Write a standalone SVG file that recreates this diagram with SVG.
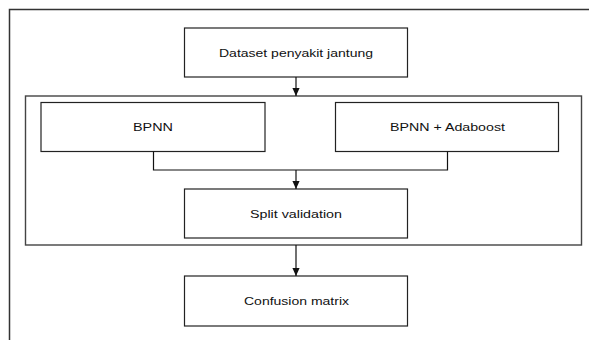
<svg xmlns="http://www.w3.org/2000/svg" width="589" height="340" viewBox="0 0 589 340">
<defs>
<style>
.box{fill:#fff;stroke:#222;stroke-width:1.2}
.frame{fill:none;stroke:#333;stroke-width:1.5}
.lbl{font-family:"Liberation Sans",Arial,sans-serif;font-size:11px;fill:#111;text-anchor:middle;dominant-baseline:central}
.con{fill:none;stroke:#111;stroke-width:1.2}
</style>
<marker id="ah" viewBox="0 0 10 10" refX="10" refY="5" markerWidth="8" markerHeight="8" markerUnits="userSpaceOnUse" orient="auto">
<path d="M0,0.5 L10,5 L0,9.5 Z" fill="#111"/>
</marker>
</defs>
<rect width="589" height="340" fill="#fff"/>
<path class="frame" d="M9.5,340 V9.5 H589"/>
<g id="container"><rect class="box" x="25.5" y="96" width="556" height="149" style="stroke:#444;stroke-width:1.4"/></g>
<g id="dataset"><rect class="box" x="184.5" y="28" width="223" height="49"/><text class="lbl" x="296" y="52.5" textLength="154" lengthAdjust="spacingAndGlyphs">Dataset penyakit jantung</text></g>
<g id="bpnn"><rect class="box" x="41" y="102.5" width="224" height="49"/><text class="lbl" x="153" y="127" textLength="40" lengthAdjust="spacingAndGlyphs">BPNN</text></g>
<g id="bpnn-adaboost"><rect class="box" x="335.5" y="102.5" width="223" height="49"/><text class="lbl" x="447.5" y="127" textLength="115" lengthAdjust="spacingAndGlyphs">BPNN + Adaboost</text></g>
<g id="split"><rect class="box" x="184.5" y="189" width="223" height="49"/><text class="lbl" x="296" y="213.5" textLength="92" lengthAdjust="spacingAndGlyphs">Split validation</text></g>
<g id="confusion"><rect class="box" x="184.5" y="276" width="223" height="50"/><text class="lbl" x="296.5" y="301" textLength="105" lengthAdjust="spacingAndGlyphs">Confusion matrix</text></g>
<g id="connectors">
<path class="con" d="M296,77 V96" marker-end="url(#ah)"/>
<path class="con" d="M153.5,151.5 V170 H447.5 V151.5"/>
<path class="con" d="M296,170 V189" marker-end="url(#ah)"/>
<path class="con" d="M296,245 V276" marker-end="url(#ah)"/>
</g>
</svg>
